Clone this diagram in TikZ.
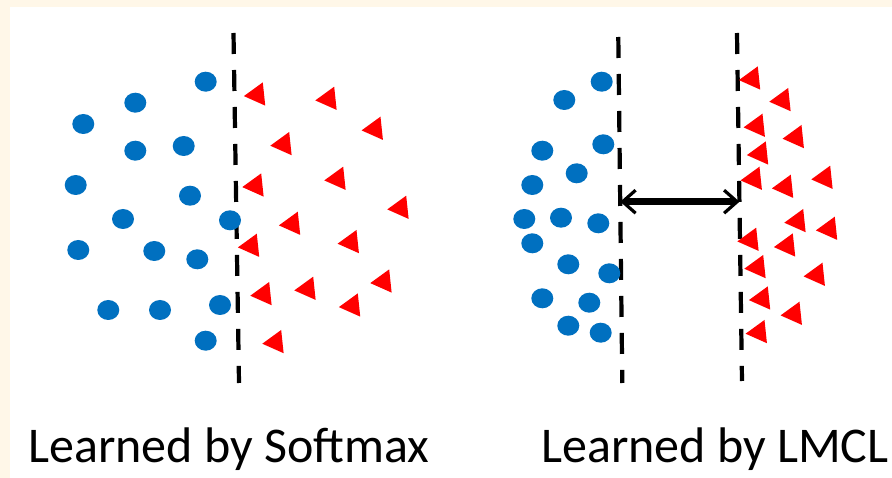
\documentclass[tikz,border=0pt]{standalone}
\usepackage{fontspec}
\setmainfont{Carlito}
\usetikzlibrary{arrows.meta}
\definecolor{cream}{RGB}{255,247,232}
\definecolor{dotblue}{RGB}{0,112,192}
\definecolor{tired}{RGB}{255,0,0}
\tikzset{
  boundary/.style={line width=4.2pt, dash pattern=on 21pt off 16pt, black},
  dot/.style={fill=dotblue},
  tri/.style={fill=tired},
  barb/.tip={Straight Barb[length=13pt,width=23pt,line width=3.2pt]},
  margin/.style={line width=6.5pt, {barb}-{barb}},
  caption/.style={anchor=base west, inner sep=0pt, font=\fontsize{50}{60}\selectfont}
}
\begin{document}
\begin{tikzpicture}[x=1pt, y=-1pt]
  % page and white canvas
  \fill[cream] (0,0) rectangle (892,478);
  \fill[white] (9.5,7.5) rectangle (892,478);
  \useasboundingbox (0,0) rectangle (892,478);

  % ---- left panel: softmax ----
  \coordinate (sTop) at (233.5,33);
  \coordinate (sBot) at (239,383);
  \draw[boundary] (sTop) -- (sBot);

  \foreach \px/\py in {205.7/81.7, 135.3/102.7, 83.3/124, 135.3/150.7, 183.7/146,
                       75.7/185, 190/195.7, 123/219, 230/220.3, 78.3/250,
                       154.3/251, 197.3/259.3, 108.3/310, 160/310, 220/305, 205.7/340.7}
    \fill[dot] (\px,\py) ellipse [x radius=11pt, y radius=10pt];

  \foreach \px/\py in {257.3/94.7, 328.7/99, 375/129, 283.7/144.3, 255.7/185.7,
                       337.7/179, 400.7/208, 292.3/224, 251.3/246, 351/242.3,
                       383.7/281.7, 263.7/294.3, 307.7/289, 352.3/305.7, 275.7/342.3}
    \fill[tri, shift={(\px,\py)}] (174:13.5) -- (294:13.5) -- (54:13.5) -- cycle;

  % ---- right panel: LMCL ----
  \coordinate (aTop) at (618.3,37);
  \coordinate (aBot) at (622.3,383);
  \coordinate (bTop) at (737,33);
  \coordinate (bBot) at (742,381);
  \draw[boundary] (aTop) -- (aBot);
  \draw[boundary] (bTop) -- (bBot);

  \foreach \px/\py in {601.7/81.7, 564.3/100, 603.3/144.3, 542.3/150.7, 576.7/173.3,
                       532.3/185, 524.3/219, 561/217.7, 598.3/223.3, 532.3/243.3,
                       568.3/264.3, 609.3/273.3, 542.3/298.3, 589.3/302.7, 568.3/325.7, 600.7/332.7}
    \fill[dot] (\px,\py) ellipse [x radius=11pt, y radius=10pt];

  \foreach \px/\py in {752.3/78.7, 782.7/100.3, 757/126, 796/137.3, 760.3/153.7,
                       754/179, 785.3/187, 824.7/178, 797.7/221.3, 829.3/229,
                       750.7/240, 787.3/245.7, 757.7/267.3, 817/275, 762.3/298.7,
                       794/314, 759/332.3}
    \fill[tri, shift={(\px,\py)}] (174:13.5) -- (294:13.5) -- (54:13.5) -- cycle;

  % margin between the two class boundaries
  \coordinate (mL) at (620.2,201.7);
  \coordinate (mR) at (739.5,201.7);
  \draw[margin] (mL) -- (mR);

  % captions
  \node[caption] (capS) at (28,462) {Learned by Softmax};
  \node[caption] (capL) at (541,462) {Learned by LMCL};
\end{tikzpicture}
\end{document}
